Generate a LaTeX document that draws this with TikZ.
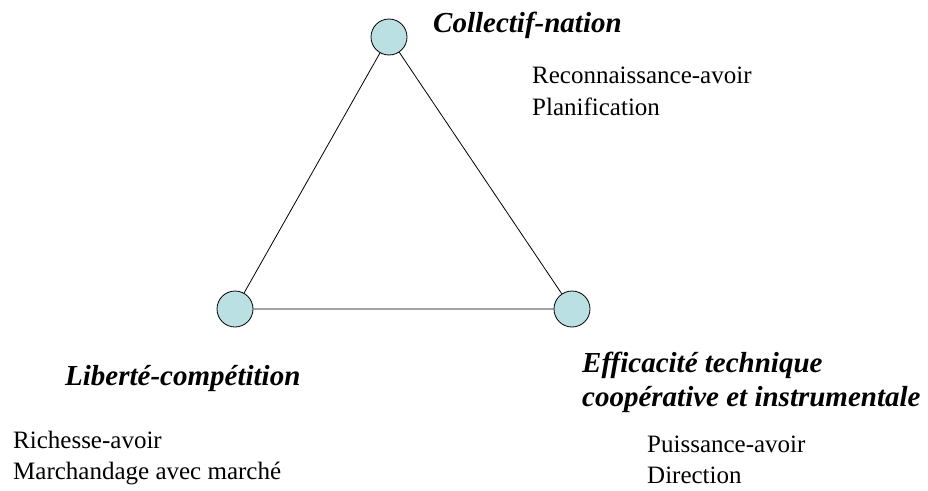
\documentclass[tikz,border=0pt]{standalone}
\usepackage{fontspec}
\setmainfont{Liberation Serif}
\definecolor{pole}{RGB}{187,224,227}
\begin{document}
\begin{tikzpicture}[x=1pt, y=-1pt,
    pole/.style={draw, circle, fill=pole, line width=.8pt, minimum size=36pt, inner sep=0pt},
    titre/.style={anchor=base west, inner sep=0pt, font=\fontsize{29}{33}\selectfont\bfseries\itshape},
    mot/.style={anchor=base west, inner sep=0pt, font=\fontsize{25}{32}\selectfont}]
        \useasboundingbox (0,0) rectangle (928,490);
        % les trois poles
        \node[pole] (coll) at (389,37) {};
        \node[pole] (lib) at (235,309) {};
        \node[pole] (eff) at (572,309) {};
        \draw[line width=.8pt] (coll) -- (lib) -- (eff) -- (coll);
        % Collectif-nation
        \node[titre] (coll-t) at (433,32) {Collectif-nation};
        \node[mot] (coll-a) at (532,83) {Reconnaissance-avoir};
        \node[mot] (coll-b) at (532,115) {Planification};
        % Liberte-competition
        \node[titre] (lib-t) at (65,385) {Libert\'e-comp\'etition};
        \node[mot] (lib-a) at (13,448) {Richesse-avoir};
        \node[mot] (lib-b) at (13,479) {Marchandage avec march\'e};
        % Efficacite
        \node[titre] (eff-t) at (582,372) {Efficacit\'e technique};
        \node[titre] (eff-u) at (582,406) {coop\'erative et instrumentale};
        \node[mot] (eff-a) at (647,452) {Puissance-avoir};
        \node[mot] (eff-b) at (647,483) {Direction};
\end{tikzpicture}
\end{document}
